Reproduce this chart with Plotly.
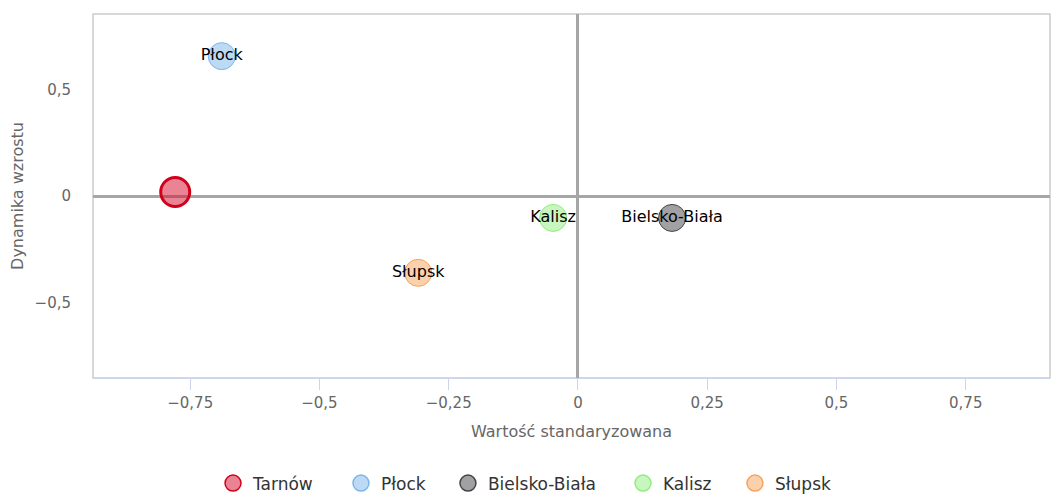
import plotly.graph_objects as go

cities = ["Tarnów", "Płock", "Bielsko-Biała", "Kalisz", "Słupsk"]
x_vals = [-0.779, -0.689, 0.182, -0.048, -0.309]
y_vals = [0.019, 0.657, -0.103, -0.103, -0.361]
show_label = [False, True, True, True, True]
fill_colors = ["rgba(214,20,50,0.52)", "rgba(124,181,236,0.5)", "rgba(67,67,72,0.5)",
               "rgba(144,237,125,0.5)", "rgba(247,163,92,0.5)"]
line_colors = ["#d0021b", "#7cb5ec", "#434348", "#90ed7d", "#f7a35c"]
marker_sizes = [29, 27, 27, 27, 27]
line_widths = [3, 1, 1, 1, 1]

x_ticks = [-0.75, -0.5, -0.25, 0, 0.25, 0.5, 0.75]
y_ticks = [-0.5, 0, 0.5]

# legend entry positions (paper fraction of plot width, left edge of each entry)
legend_x = [0.1254, 0.2591, 0.3709, 0.5538, 0.6708]

font = "DejaVu Sans, Verdana, sans-serif"

fig = go.Figure()
for i, c in enumerate(cities):
    fig.add_trace(go.Scatter(
        x=[x_vals[i]], y=[y_vals[i]], name=c,
        mode="markers+text" if show_label[i] else "markers",
        text=[c] if show_label[i] else None,
        textposition="middle center",
        textfont=dict(family=font, size=16, color="#000000"),
        marker=dict(size=marker_sizes[i], color=fill_colors[i],
                    line=dict(color=line_colors[i], width=line_widths[i])),
        showlegend=False,
    ))
legend_names = ["legend"] + ["legend%d" % (k + 2) for k in range(len(cities) - 1)]
for i, c in enumerate(cities):
    fig.add_trace(go.Scatter(
        x=[None], y=[None], name=c, mode="markers",
        marker=dict(size=17, color=fill_colors[i],
                    line=dict(color=line_colors[i], width=1.5)),
        showlegend=True, legend=legend_names[i],
    ))

legend_common = dict(orientation="h", xanchor="left", y=-0.29, yanchor="middle",
                     font=dict(family=font, size=17, color="#333333"),
                     itemsizing="trace", bgcolor="rgba(0,0,0,0)")
legend_layouts = {}
for i, ln in enumerate(legend_names):
    legend_layouts[ln] = dict(legend_common, x=legend_x[i])

fig.update_layout(
    width=1051, height=495,
    margin=dict(l=93, r=1, t=14, b=117, autoexpand=False),
    paper_bgcolor="white", plot_bgcolor="white",
    separators=", ",
    font=dict(family=font, size=15, color="#666666"),
    showlegend=True,
    xaxis=dict(range=[-0.938, 0.913], showgrid=False, zeroline=True,
               zerolinecolor="#a6a6a6", zerolinewidth=3,
               showline=True, linecolor="#ccd6eb", linewidth=1,
               ticks="outside", ticklen=11, tickcolor="#ccd6eb",
               tickvals=x_ticks, tickfont=dict(size=15, color="#666666"),
               title=dict(text="Wartość standaryzowana", standoff=14,
                          font=dict(size=16, color="#666666"))),
    yaxis=dict(range=[-0.855, 0.855], showgrid=False, zeroline=True,
               zerolinecolor="#a6a6a6", zerolinewidth=3,
               showline=False, ticks="", tickvals=y_ticks,
               ticklabelstandoff=21,
               tickfont=dict(size=15, color="#666666"),
               title=dict(text="Dynamika wzrostu", standoff=6,
                          font=dict(size=16, color="#666666"))),
    shapes=[dict(type="rect", xref="paper", yref="paper", x0=0, x1=1, y0=0, y1=1,
                 line=dict(color="#cccccc", width=1.5), layer="below")],
    **legend_layouts,
)

fig.write_html("out.html", config={"displayModeBar": False},
               post_script="document.body.style.margin='0';document.body.style.overflow='hidden';")
